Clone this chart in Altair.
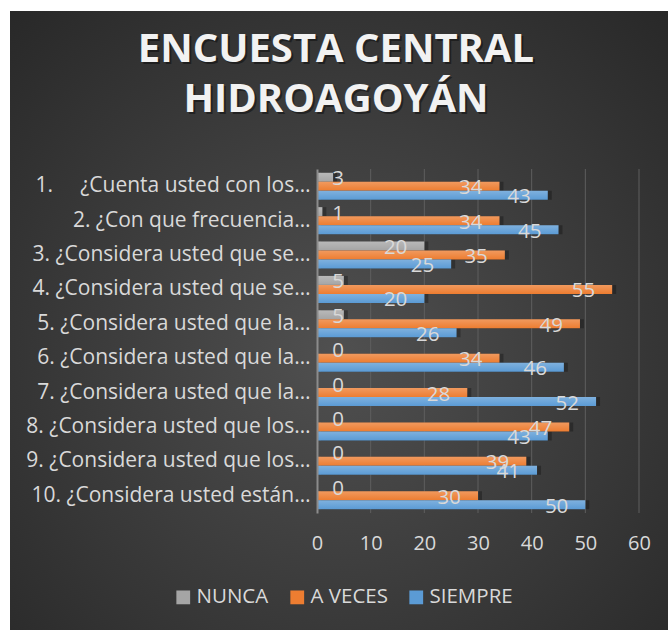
import altair as alt
import pandas as pd

categories = [
    "1.\u00a0\u00a0\u00a0\u00a0\u00a0¿Cuenta usted con los…",
    "2. ¿Con que frecuencia…",
    "3. ¿Considera usted que se…",
    "4. ¿Considera usted que se…",
    "5. ¿Considera usted que la…",
    "6. ¿Considera usted que la…",
    "7. ¿Considera usted que la…",
    "8. ¿Considera usted que los…",
    "9. ¿Considera usted que los…",
    "10. ¿Considera usted están…",
]
series = ["NUNCA", "A VECES", "SIEMPRE"]
nunca = [3, 1, 20, 5, 5, 0, 0, 0, 0, 0]
a_veces = [34, 34, 35, 55, 49, 34, 28, 47, 39, 30]
siempre = [43, 45, 25, 20, 26, 46, 52, 43, 41, 50]
x_ticks = [0, 10, 20, 30, 40, 50, 60]
colors = ["#A5A5A5", "#ED7D31", "#5B9BD5"]
title_lines = ["ENCUESTA CENTRAL", "HIDROAGOYÁN"]

rows = []
for vals, s in zip([nunca, a_veces, siempre], series):
    for c, v in zip(categories, vals):
        rows.append({"cat": c, "serie": s, "val": v})
df = pd.DataFrame(rows)

FONT = "Open Sans"
TXT = "#D9D9D9"

y_enc = alt.Y("cat:N", sort=categories,
              scale=alt.Scale(paddingInner=0.215, paddingOuter=0.11),
              axis=alt.Axis(title=None, labelFont=FONT, labelFontSize=21, labelColor=TXT,
                            labelPadding=7, ticks=False, domain=True, domainColor="#8C8C8C",
                            domainWidth=2, grid=False, labelLimit=400, zindex=1))
yoff = alt.YOffset("serie:N", sort=series, scale=alt.Scale(paddingInner=0, paddingOuter=0))
x_scale = alt.Scale(domain=[0, 60], nice=False)

bg = alt.Chart(alt.Data(values=[{}])).mark_rect(
    fill=alt.Gradient(gradient="radial",
                      stops=[alt.GradientStop(offset=0, color="#505050"),
                             alt.GradientStop(offset=1, color="#252525")],
                      x1=0.5, y1=0.55, r1=0, x2=0.5, y2=0.55, r2=0.78)
).encode(x=alt.value(-307), x2=alt.value(351), y=alt.value(-158), y2=alt.value(461))

title_layers = []
for line, ybase in zip(title_lines, [-107, -57]):
    d = alt.Data(values=[{"t": line}])
    title_layers.append(alt.Chart(d).mark_text(
        font="Open Sans", fontSize=40, fontWeight="bold", color="#000000", opacity=0.4,
        align="center", baseline="alphabetic", dx=2, dy=2
    ).encode(x=alt.value(19), y=alt.value(ybase), text="t:N"))
    title_layers.append(alt.Chart(d).mark_text(
        font="Open Sans", fontSize=40, fontWeight="bold", color="#F2F2F2",
        align="center", baseline="alphabetic"
    ).encode(x=alt.value(19), y=alt.value(ybase), text="t:N"))

grid = alt.Chart(alt.Data(values=[{"t": t} for t in x_ticks[1:]])).mark_rule(
    color="#5E5E5E", strokeWidth=1
).encode(x=alt.X("t:Q", scale=x_scale), y=alt.value(0), y2=alt.value(344))

shadow = alt.Chart(df).mark_bar(color="#000000", opacity=0.28, xOffset=4, yOffset=3).encode(
    x=alt.X("val:Q", scale=x_scale), y=y_enc, yOffset=yoff)

bars = alt.Chart(df).mark_bar().encode(
    x=alt.X("val:Q", scale=x_scale,
            axis=alt.Axis(title=None, values=x_ticks, grid=False, ticks=False, domain=False,
                          labelFont=FONT, labelFontSize=20, labelColor=TXT, labelPadding=20,
                          labelFlush=False, zindex=1)),
    y=y_enc, yOffset=yoff,
    color=alt.Color("serie:N", sort=series,
                    scale=alt.Scale(domain=series, range=colors),
                    legend=alt.Legend(title=None, orient="none", direction="horizontal",
                                      legendX=-144, legendY=418, symbolType="square",
                                      symbolSize=190, symbolStrokeWidth=0, symbolOpacity=1,
                                      labelFont=FONT, labelFontSize=20.5, labelColor=TXT,
                                      columnPadding=18, symbolOffset=0, labelOffset=3)))

shine = alt.Chart(df).mark_bar(
    fill=alt.Gradient(gradient="linear",
                      stops=[alt.GradientStop(offset=0, color="rgba(255,255,255,0.22)"),
                             alt.GradientStop(offset=1, color="rgba(255,255,255,0)")],
                      x1=0, y1=0, x2=0, y2=1)
).encode(x=alt.X("val:Q", scale=x_scale), y=y_enc, yOffset=yoff)

labels = alt.Chart(df).transform_calculate(
    lx="max(datum.val, 8.2)"
).mark_text(align="right", baseline="middle", dx=-17, dy=2, font=FONT, fontSize=20.5, color=TXT).encode(
    x=alt.X("lx:Q", scale=x_scale), y=y_enc, yOffset=yoff, text=alt.Text("val:Q"))

chart = alt.layer(bg, *title_layers, grid, shadow, bars, shine, labels).properties(
    width=322, height=344,
    padding={"left": 317, "top": 169, "right": 29, "bottom": 117},
    autosize=alt.AutoSizeParams(type="none"),
    background="white",
).configure_view(stroke=None)

chart.save("out.html", embed_options={"renderer": "svg", "actions": False})
